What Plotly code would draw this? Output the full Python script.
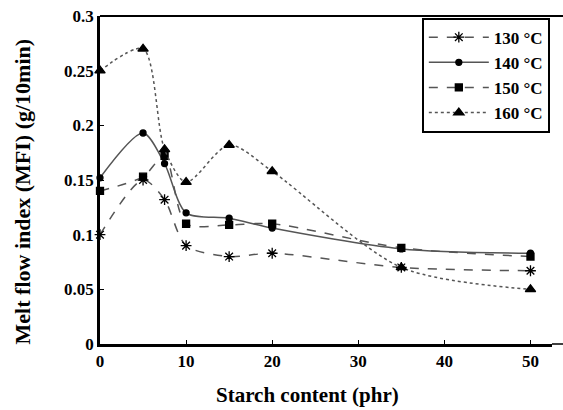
import plotly.graph_objects as go

starch = [0, 5, 7.5, 10, 15, 20, 35, 50]
mfi_130 = [0.100, 0.150, 0.132, 0.090, 0.080, 0.083, 0.070, 0.067]
mfi_140 = [0.152, 0.193, 0.165, 0.120, 0.115, 0.106, 0.087, 0.083]
mfi_150 = [0.140, 0.153, 0.172, 0.110, 0.109, 0.110, 0.088, 0.080]
mfi_160 = [0.250, 0.270, 0.178, 0.148, 0.182, 0.158, 0.070, 0.050]
labels = ["130 °C", "140 °C", "150 °C", "160 °C"]
y_ticks = [0, 0.05, 0.1, 0.15, 0.2, 0.25, 0.3]
y_ticktext = ["0", "0.05", "0.1", "0.15", "0.2", "0.25", "0.3"]
x_ticks = [0, 10, 20, 30, 40, 50]
x_title = "Starch content (phr)"
y_title = "Melt flow index (MFI) (g/10min)"

styles = [
    (mfi_130, "dash", "asterisk-open", 9),
    (mfi_140, "solid", "circle", 6),
    (mfi_150, "dash", "square", 7),
    (mfi_160, "dot", "triangle-up", 9),
]

fig = go.Figure()
for (vals, dash, sym, sz), name in zip(styles, labels):
    fig.add_trace(go.Scatter(
        x=starch, y=vals, name=name, mode="lines+markers",
        line=dict(color="#555555", width=1.5, dash=dash, shape="spline", smoothing=0.8),
        marker=dict(symbol=sym, size=sz, color="black",
                    line=dict(color="black", width=1.3)),
        cliponaxis=False,
    ))

font = "Liberation Serif"
fig.update_layout(
    width=563, height=410,
    margin=dict(l=100, r=11, t=16, b=66),
    plot_bgcolor="white", paper_bgcolor="white",
    font=dict(family=font, size=17, color="black"),
    showlegend=True,
    legend=dict(x=0.712, y=0.995, xanchor="left", yanchor="top",
                bordercolor="black", borderwidth=2, bgcolor="white",
                font=dict(family=font, size=17, color="black", weight="bold"),
                tracegroupgap=0, itemwidth=60),
    xaxis=dict(range=[0, 52.5], tickvals=x_ticks, ticks="inside", ticklen=4,
               tickwidth=1, tickcolor="black", automargin=False,
               showline=True, linecolor="black", linewidth=2.5,
               showgrid=False, zeroline=False,
               tickfont=dict(family=font, size=17, weight="bold")),
    yaxis=dict(range=[0, 0.3], tickvals=y_ticks, ticktext=y_ticktext,
               ticks="inside", ticklen=4, tickwidth=1, tickcolor="black",
               automargin=False,
               showline=True, linecolor="black", linewidth=2.5,
               showgrid=False, zeroline=False,
               tickfont=dict(family=font, size=17, weight="bold")),
    shapes=[dict(type="line", xref="paper", yref="paper", x0=0, x1=1.025,
                 y0=1, y1=1, line=dict(color="black", width=2)),
            dict(type="line", xref="paper", yref="paper", x0=1, x1=1.025,
                 y0=0, y1=0, line=dict(color="black", width=1.5))],
    annotations=[
        dict(text=x_title, xref="paper", yref="paper", x=0.46, y=-0.155,
             xanchor="center", yanchor="middle", showarrow=False,
             font=dict(family=font, size=21, weight="bold")),
        dict(text=y_title, xref="paper", yref="paper", x=-0.172, y=0.466,
             xanchor="center", yanchor="middle", showarrow=False, textangle=-90,
             font=dict(family=font, size=22, weight="bold")),
    ],
)

fig.write_html("out.html", config={"displayModeBar": False},
               post_script="document.body.style.margin='0px';document.body.style.overflow='hidden';")
